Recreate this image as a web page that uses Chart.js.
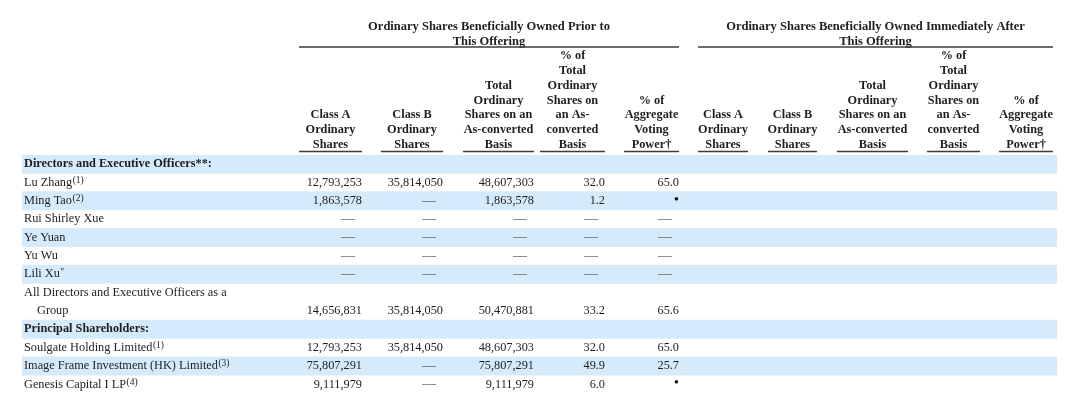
<!DOCTYPE html>
<html>
<head>
<meta charset="utf-8">
<script src="https://cdn.jsdelivr.net/npm/chart.js@4.4.1/dist/chart.umd.min.js"></script>
<style>
  html, body { margin: 0; padding: 0; background: #fff; }
  #wrap { width: 1080px; height: 403px; }
</style>
</head>
<body>
<div id="wrap"><canvas id="table"></canvas></div>
<script>
// table rows, top to bottom ("Group" is the wrapped 2nd line of the row above)
var rowLabels = [
    "Directors and Executive Officers**:",
    "Lu Zhang",
    "Ming Tao",
    "Rui Shirley Xue",
    "Ye Yuan",
    "Yu Wu",
    "Lili Xu",
    "All Directors and Executive Officers as a",
    "Group",
    "Principal Shareholders:",
    "Soulgate Holding Limited",
    "Image Frame Investment (HK) Limited",
    "Genesis Capital I LP"
];
var rowNotes = ["", "(1)", "(2)", "", "", "", "\"", "", "", "", "(1)", "(3)", "(4)"];

// prior to this offering; "" = empty cell, null = dash
var classA = ["", 12793253, 1863578, null, null, null, null, "", 14656831, "", 12793253, 75807291, 9111979];
var classB = ["", 35814050, null, null, null, null, null, "", 35814050, "", 35814050, null, null];
var totalShares = ["", 48607303, 1863578, null, null, null, null, "", 50470881, "", 48607303, 75807291, 9111979];
var pctTotal = ["", 32.0, 1.2, null, null, null, null, "", 33.2, "", 32.0, 49.9, 6.0];
var votingPower = ["", 65.0, "•", null, null, null, null, "", 65.6, "", 65.0, 25.7, "•"];

var colHeaders = [
    ["Class A", "Ordinary", "Shares"],
    ["Class B", "Ordinary", "Shares"],
    ["Total", "Ordinary", "Shares on an", "As-converted", "Basis"],
    ["% of", "Total", "Ordinary", "Shares on", "an As-", "converted", "Basis"],
    ["% of", "Aggregate", "Voting", "Power†"]
];
var groupTitles = [
    ["Ordinary Shares Beneficially Owned Prior to", "This Offering"],
    ["Ordinary Shares Beneficially Owned Immediately After", "This Offering"]
];

// layout (x units = px from the left edge of the shaded rows)
var tableWidth = 1035;
var colLeft = [277, 359, 441, 518, 602, 676, 746, 815, 905, 977];
var colRight = [340, 421, 512, 583, 657, 726, 795, 886, 958, 1031];
var boldRows = [0, 9];
var indentRows = [8];
var band = "#d5eafa";
var ink = "#1e1e1e";
var serif = "'Liberation Serif', 'Times New Roman', serif";

var priorCols = [classA, classB, totalShares, pctTotal, votingPower];

function colCenter(c){ return (colLeft[c] + colRight[c]) / 2; }

// shading alternates by table row, the wrapped line keeps its row's colour
function shaded(i){
    var logical = i >= 8 ? i - 1 : i;
    return logical % 2 === 0;
}

function cellText(v, c){
    if (v === null) return "—";
    if (typeof v === "string") return v;
    return c < 3 ? v.toLocaleString("en-US") : v.toFixed(1);
}

var tablePlugin = {
    id: "tableText",
    afterDraw: function(chart){
        var ctx = chart.ctx;
        var x = chart.scales.x;
        var y = chart.scales.y;
        var area = chart.chartArea;
        ctx.save();

        // header rules
        ctx.strokeStyle = "#3c3c3c";
        ctx.lineWidth = 1.4;
        for (var c = 0; c < colLeft.length; c++){
            ctx.beginPath();
            ctx.moveTo(x.getPixelForValue(colLeft[c]), area.top - 3.5);
            ctx.lineTo(x.getPixelForValue(colRight[c]), area.top - 3.5);
            ctx.stroke();
        }
        for (var g = 0; g < 2; g++){
            ctx.beginPath();
            ctx.moveTo(x.getPixelForValue(colLeft[g * 5]), x.top - 2);
            ctx.lineTo(x.getPixelForValue(colRight[g * 5 + 4]), x.top - 2);
            ctx.stroke();
        }

        ctx.textBaseline = "middle";
        for (var i = 0; i < rowLabels.length; i++){
            var py = y.getPixelForValue(i);
            var bold = boldRows.indexOf(i) >= 0;
            var lx = area.left + 2 + (indentRows.indexOf(i) >= 0 ? 13 : 0);
            ctx.textAlign = "left";
            ctx.fillStyle = ink;
            ctx.font = (bold ? "bold 12.3px " : "12.3px ") + serif;
            ctx.fillText(rowLabels[i], lx, py);
            if (rowNotes[i]){
                var w = ctx.measureText(rowLabels[i]).width;
                ctx.font = "9.5px " + serif;
                ctx.fillText(rowNotes[i], lx + w + 0.5, py - 2);
            }

            for (var k = 0; k < priorCols.length; k++){
                var v = priorCols[k][i];
                if (v === "") continue;
                var t = cellText(v, k);
                ctx.textAlign = "right";
                if (v === null){
                    ctx.fillStyle = "#666";
                    ctx.font = "14px " + serif;
                    ctx.fillText(t, x.getPixelForValue(colRight[k]) - 7, py);
                } else if (v === "•"){
                    ctx.fillStyle = "#111";
                    ctx.font = "15px " + serif;
                    ctx.fillText(t, x.getPixelForValue(colRight[k]), py - 1);
                } else {
                    ctx.fillStyle = ink;
                    ctx.font = "12.3px " + serif;
                    ctx.fillText(t, x.getPixelForValue(colRight[k]), py);
                }
            }
        }
        ctx.restore();
    }
};

var ctx = document.getElementById("table").getContext("2d");

var config = {
    type: "bar",
    data: {
        labels: rowLabels,
        datasets: [{
            data: rowLabels.map(function(){ return [0, tableWidth]; }),
            backgroundColor: function(c){ return shaded(c.dataIndex) ? band : "rgba(255,255,255,0)"; },
            borderWidth: 0,
            barPercentage: 1,
            categoryPercentage: 1,
            xAxisID: "x",
            yAxisID: "y"
        }]
    },
    options: {
        indexAxis: "y",
        responsive: true,
        maintainAspectRatio: false,
        animation: false,
        devicePixelRatio: 1,
        layout: { padding: { top: 16, bottom: 9.5, left: 22, right: 23 } },
        plugins: { legend: { display: false }, tooltip: { enabled: false } },
        scales: {
            y: { type: "category", display: false, offset: true },
            x: {
                type: "linear",
                position: "top",
                min: 0,
                max: tableWidth,
                grid: { display: false, drawTicks: false },
                border: { display: false },
                afterBuildTicks: function(axis){
                    axis.ticks = colLeft.map(function(l, c){ return { value: colCenter(c) }; });
                },
                afterFit: function(axis){ axis.height = 106; },
                ticks: {
                    autoSkip: false,
                    maxRotation: 0,
                    minRotation: 0,
                    padding: 3,
                    color: ink,
                    font: { family: serif, size: 12.3, weight: "bold", lineHeight: 1.2 },
                    callback: function(value, index){ return colHeaders[index % 5]; }
                }
            },
            x2: {
                type: "linear",
                position: "top",
                min: 0,
                max: tableWidth,
                grid: { display: false, drawTicks: false },
                border: { display: false },
                afterBuildTicks: function(axis){
                    axis.ticks = [
                        { value: (colLeft[0] + colRight[4]) / 2 },
                        { value: (colLeft[5] + colRight[9]) / 2 }
                    ];
                },
                afterFit: function(axis){ axis.height = 33; },
                ticks: {
                    autoSkip: false,
                    maxRotation: 0,
                    minRotation: 0,
                    padding: 0,
                    color: ink,
                    font: { family: serif, size: 12.5, weight: "bold", lineHeight: 1.2 },
                    callback: function(value, index){ return groupTitles[index]; }
                }
            }
        }
    },
    plugins: [tablePlugin]
};

var tableChart = new Chart(ctx, config);
</script>
</body>
</html>
